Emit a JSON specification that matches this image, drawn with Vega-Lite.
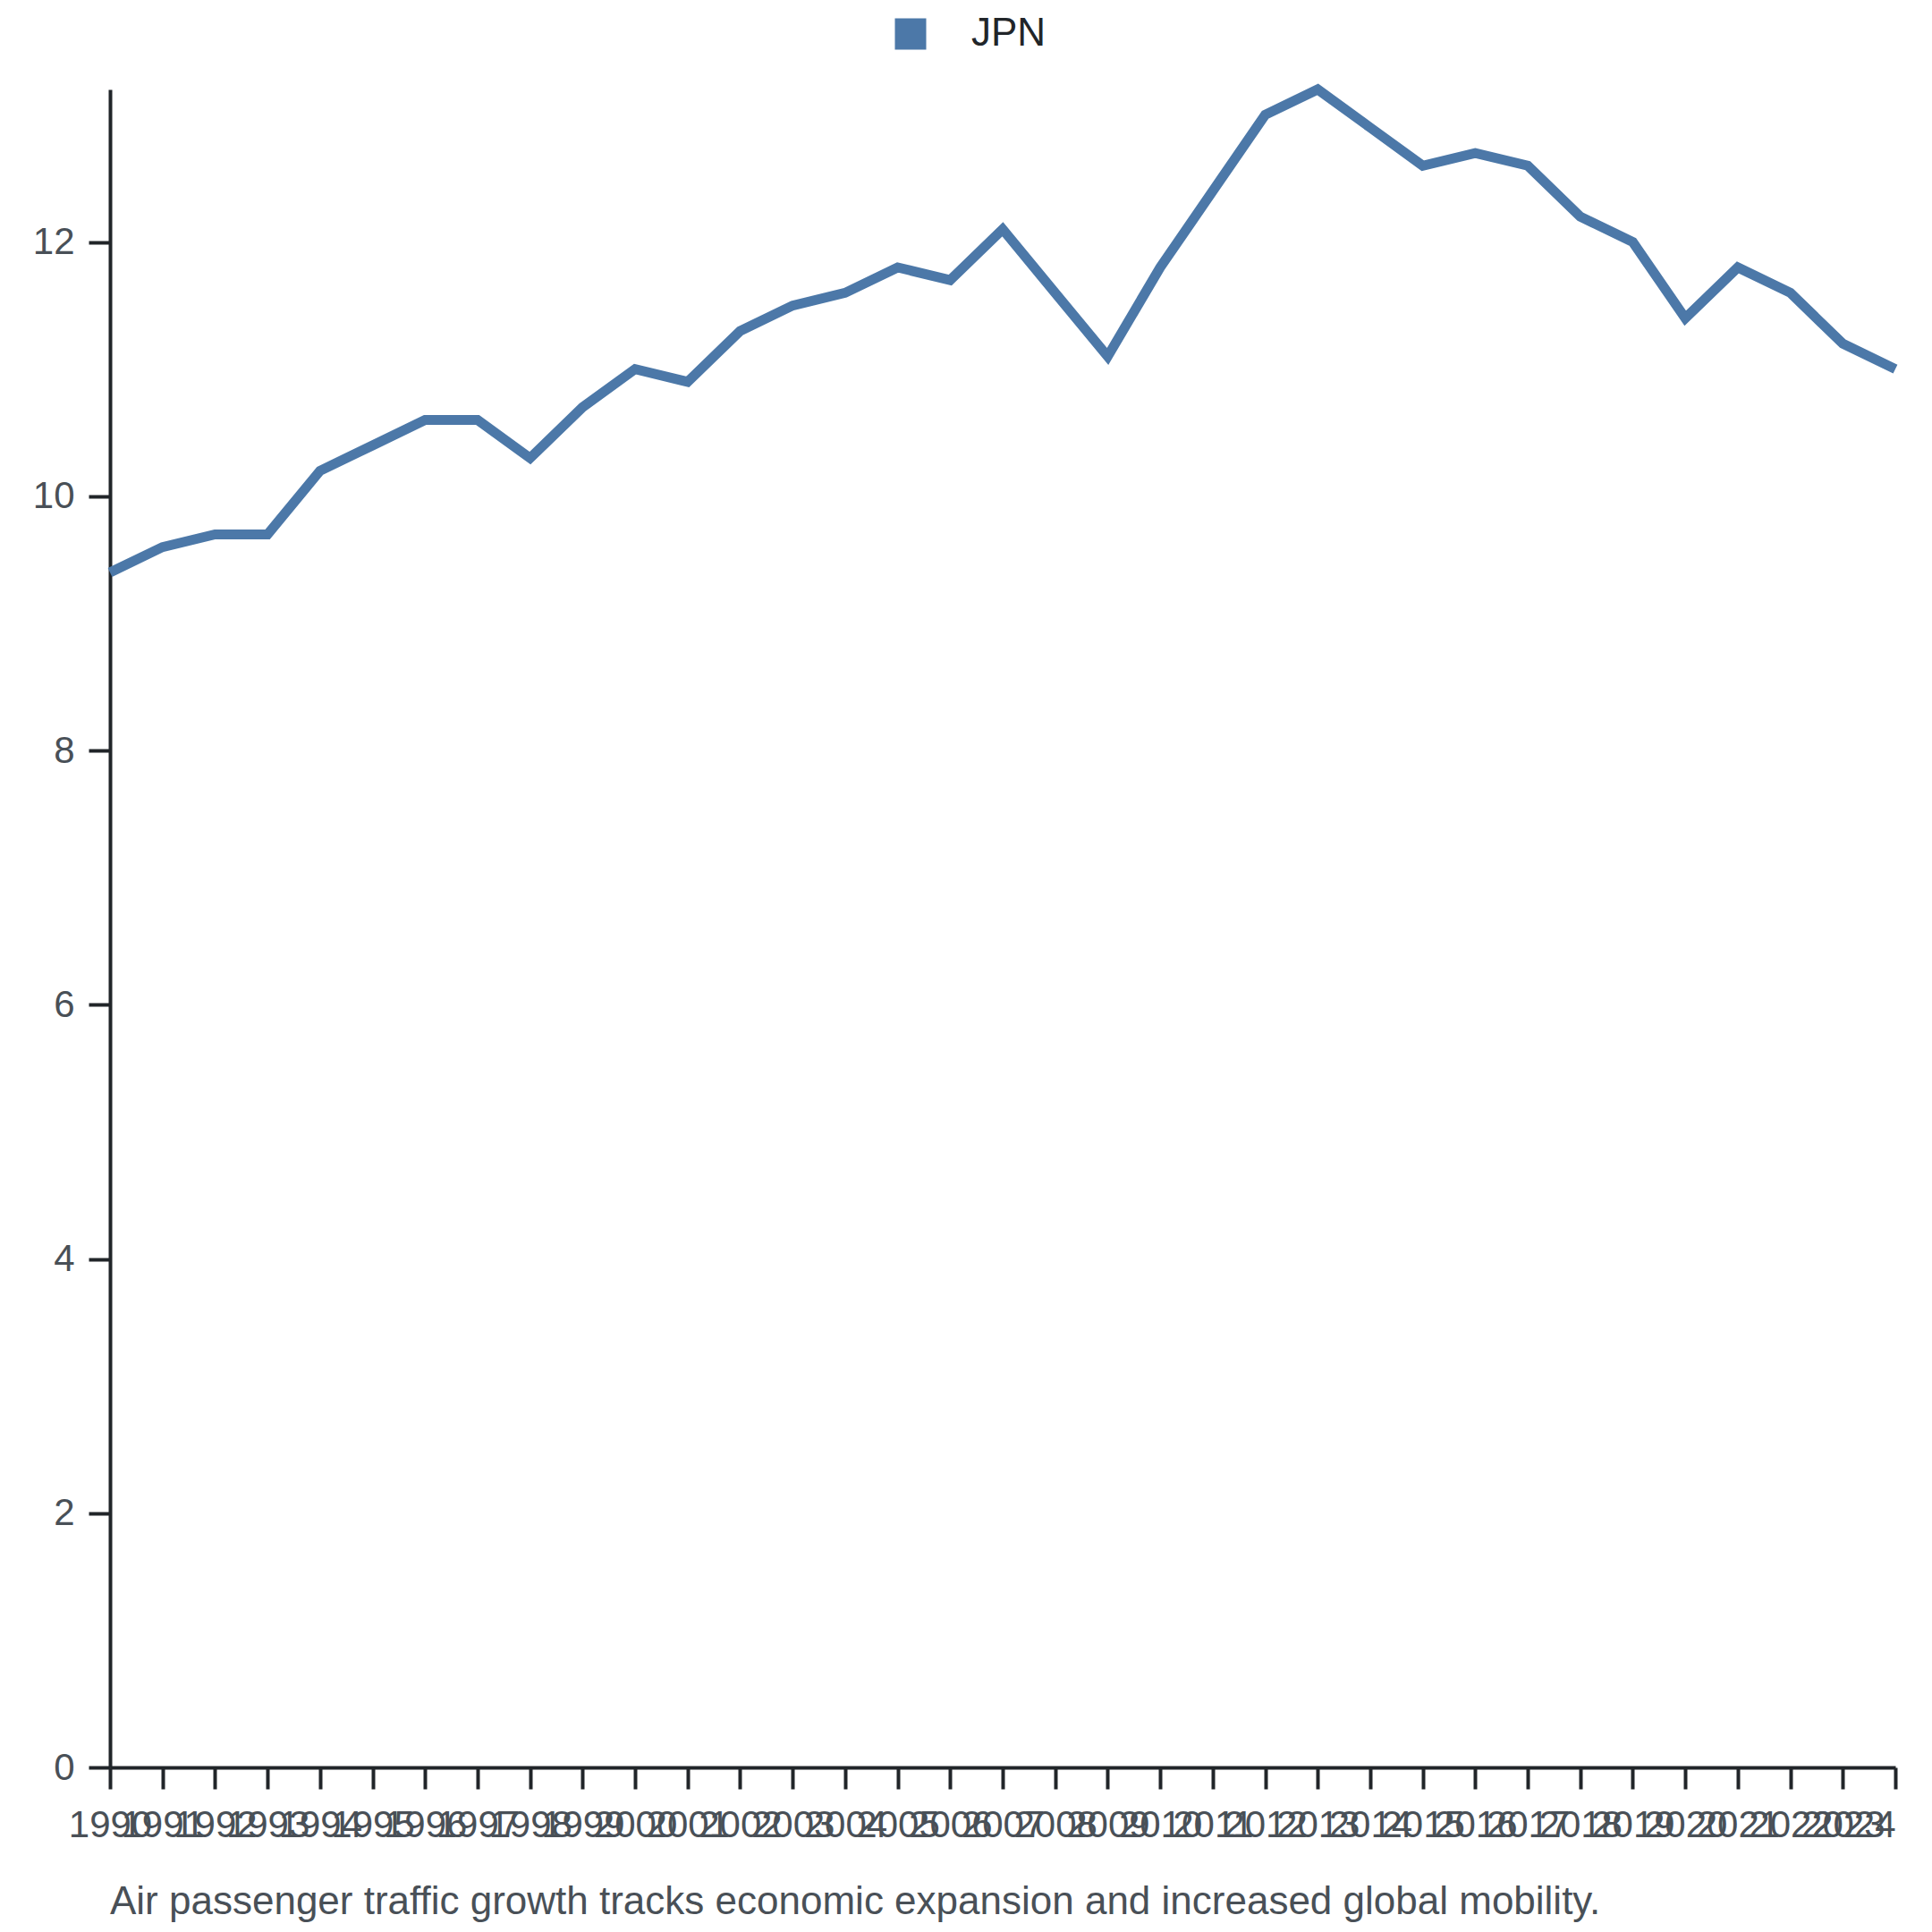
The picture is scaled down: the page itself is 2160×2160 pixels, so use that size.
{
  "$schema": "https://vega.github.io/schema/vega-lite/v6.json",
  "width": 1996,
  "height": 1876,
  "autosize": {"type": "none"},
  "padding": {"left": 123, "top": 100, "right": 41, "bottom": 184},
  "background": "white",
  "title": {
    "text": "Air passenger traffic growth tracks economic expansion and increased global mobility.",
    "orient": "bottom",
    "anchor": "start",
    "frame": "group",
    "fontSize": 44,
    "fontWeight": "normal",
    "font": "Liberation Sans",
    "color": "#495057",
    "offset": 44
  },
  "data": {
    "values": [
      {"year": "1990", "country": "JPN", "value": 9.4},
      {"year": "1991", "country": "JPN", "value": 9.6},
      {"year": "1992", "country": "JPN", "value": 9.7},
      {"year": "1993", "country": "JPN", "value": 9.7},
      {"year": "1994", "country": "JPN", "value": 10.2},
      {"year": "1995", "country": "JPN", "value": 10.4},
      {"year": "1996", "country": "JPN", "value": 10.6},
      {"year": "1997", "country": "JPN", "value": 10.6},
      {"year": "1998", "country": "JPN", "value": 10.3},
      {"year": "1999", "country": "JPN", "value": 10.7},
      {"year": "2000", "country": "JPN", "value": 11.0},
      {"year": "2001", "country": "JPN", "value": 10.9},
      {"year": "2002", "country": "JPN", "value": 11.3},
      {"year": "2003", "country": "JPN", "value": 11.5},
      {"year": "2004", "country": "JPN", "value": 11.6},
      {"year": "2005", "country": "JPN", "value": 11.8},
      {"year": "2006", "country": "JPN", "value": 11.7},
      {"year": "2007", "country": "JPN", "value": 12.1},
      {"year": "2008", "country": "JPN", "value": 11.6},
      {"year": "2009", "country": "JPN", "value": 11.1},
      {"year": "2010", "country": "JPN", "value": 11.8},
      {"year": "2011", "country": "JPN", "value": 12.4},
      {"year": "2012", "country": "JPN", "value": 13.0},
      {"year": "2013", "country": "JPN", "value": 13.2},
      {"year": "2014", "country": "JPN", "value": 12.9},
      {"year": "2015", "country": "JPN", "value": 12.6},
      {"year": "2016", "country": "JPN", "value": 12.7},
      {"year": "2017", "country": "JPN", "value": 12.6},
      {"year": "2018", "country": "JPN", "value": 12.2},
      {"year": "2019", "country": "JPN", "value": 12.0},
      {"year": "2020", "country": "JPN", "value": 11.4},
      {"year": "2021", "country": "JPN", "value": 11.8},
      {"year": "2022", "country": "JPN", "value": 11.6},
      {"year": "2023", "country": "JPN", "value": 11.2},
      {"year": "2024", "country": "JPN", "value": 11.0}
    ]
  },
  "mark": {"type": "line", "strokeWidth": 11},
  "encoding": {
    "x": {
      "field": "year",
      "type": "ordinal",
      "scale": {"type": "point", "padding": 0},
      "axis": {
        "title": null,
        "labelAngle": 0,
        "labelOverlap": false,
        "labelFlush": false,
        "labelBound": false,
        "labelAlign": {"expr": "datum.value == '2024' ? 'right' : 'center'"},
        "labelFontSize": 42,
        "labelPadding": 20,
        "grid": false
      }
    },
    "y": {
      "field": "value",
      "type": "quantitative",
      "scale": {"zero": true, "nice": false, "domain": [0, 13.2]},
      "axis": {
        "title": null,
        "tickCount": 7,
        "labelFontSize": 42,
        "labelPadding": 16,
        "grid": false
      }
    },
    "color": {
      "field": "country",
      "type": "nominal",
      "scale": {"range": ["#4c78a8"]},
      "legend": {
        "title": null,
        "orient": "none",
        "legendX": 873,
        "legendY": -84,
        "symbolType": "square",
        "symbolSize": 1225,
        "symbolStrokeWidth": 0,
        "labelFontSize": 44,
        "labelOffset": 46,
        "labelColor": "#212529",
        "labelFont": "Liberation Sans",
        "encode": {"symbols": {"update": {"fill": {"value": "#4c78a8"}, "fillOpacity": {"value": 1}}}}
      }
    }
  },
  "config": {
    "view": {"stroke": null},
    "axis": {
      "labelFont": "Liberation Sans",
      "labelColor": "#495057",
      "domainColor": "#212529",
      "domainWidth": 4,
      "tickColor": "#212529",
      "tickWidth": 4,
      "tickSize": 24
    }
  }
}
